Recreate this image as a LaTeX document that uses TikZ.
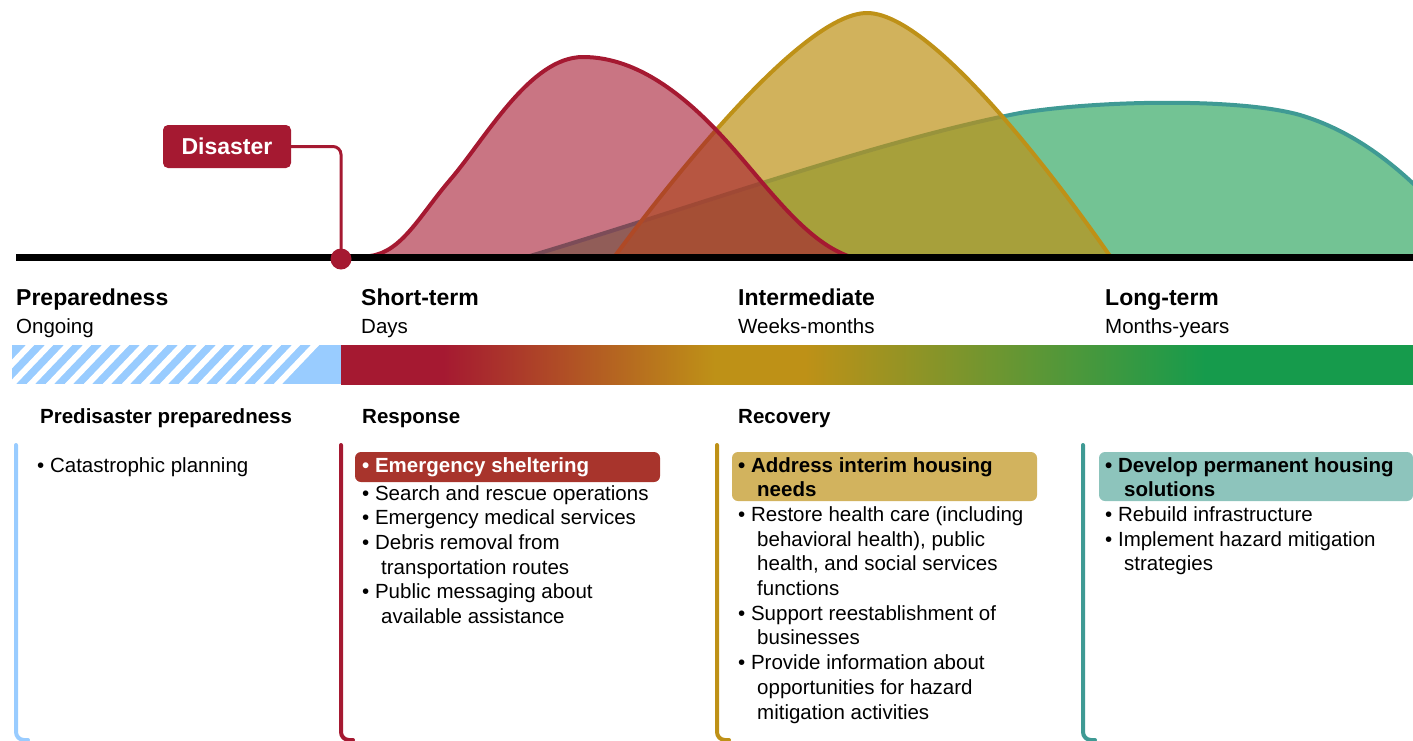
\documentclass[tikz,border=0pt]{standalone}
\usepackage{fontspec}
\setmainfont{Liberation Sans}
\definecolor{dred}{HTML}{A51931}
\definecolor{gold}{HTML}{BE9117}
\definecolor{teal2}{HTML}{3F9A94}
\definecolor{gbar}{HTML}{169B4C}
\definecolor{lblue}{HTML}{99CCFF}
\definecolor{brick}{HTML}{A8342C}
\definecolor{goldbox}{HTML}{D2B35E}
\definecolor{tealbox}{HTML}{8DC4BC}
\begin{document}
\begin{tikzpicture}[x=1pt,y=-1pt,
  txt/.style={anchor=base west, inner sep=0pt, font=\fontsize{20.5}{24.7}\selectfont},
  btxt/.style={txt, font=\fontsize{20.5}{24.7}\selectfont\bfseries},
  hd/.style={anchor=base west, inner sep=0pt, font=\fontsize{23}{27}\selectfont\bfseries},
  hl/.style={rounded corners=6pt},
  bracket/.style={line width=4pt, line cap=round, rounded corners=8pt},
  curve/.style={line width=4pt, line join=round}]
\useasboundingbox (0,0) rectangle (1413,740);
\clip (0,0) rectangle (1413,740);

% ---------- curves ----------
\filldraw[curve, draw=teal2, fill=gbar, fill opacity=0.6]
  (530,256) .. controls (700,205) and (880,140) .. (1020,113)
  .. controls (1100,100) and (1240,98) .. (1300,115)
  .. controls (1350,130) and (1390,160) .. (1425,195) -- (1425,256) -- cycle;
\filldraw[curve, draw=gold, fill=gold, fill opacity=0.7]
  (615,256) .. controls (660,195) and (800,13) .. (867,13)
  .. controls (930,13) and (1050,170) .. (1110,256) -- cycle;
\filldraw[curve, draw=dred, fill=dred, fill opacity=0.6]
  (370,256) .. controls (402,252) and (420,215) .. (450,180)
  .. controls (486,138) and (530,57) .. (583,57)
  .. controls (640,57) and (690,100) .. (730,145)
  .. controls (770,190) and (805,240) .. (848,256) -- cycle;

% ---------- baseline ----------
\coordinate (bl) at (16,257);
\coordinate (br) at (1413,257);
\draw[black, line width=7pt] (bl) -- (br);

% ---------- disaster ----------
\node[fill=dred, rounded corners=5pt, minimum width=128pt, minimum height=43pt, inner sep=0pt,
  text=white, font=\fontsize{23}{27}\selectfont\bfseries] (dis) at (227,146.5) {Disaster};
\coordinate (dotc) at (341,259);
\draw[dred, line width=3pt, rounded corners=8pt] (dis.east) -| (dotc);
\node[circle, fill=dred, minimum size=21pt, inner sep=0pt] (dot) at (dotc) {};

% ---------- phase headings ----------
\node[hd] (h1) at (16,305) {Preparedness};
\node[txt] (s1) at (16,333) {Ongoing};
\node[hd] (h2) at (361,305) {Short-term};
\node[txt] (s2) at (361,333) {Days};
\node[hd] (h3) at (738,305) {Intermediate};
\node[txt] (s3) at (738,333) {Weeks-months};
\node[hd] (h4) at (1105,305) {Long-term};
\node[txt] (s4) at (1105,333) {Months-years};

% ---------- colour bar ----------
\fill[lblue] (12,345) rectangle (341,384);
\begin{scope}
  \clip (12,345) rectangle (341,384);
  \foreach \i in {-1,...,14}
    \draw[white, line width=6pt] ({10+19*\i},386) -- ({10+19*\i+41},343);
\end{scope}
\begin{scope}
  \clip (341,345) rectangle (1413,384);
  \fill[dred] (341,335) rectangle (444,394);
  \shade[left color=dred, right color=gold] (443,335) rectangle (715,394);
  \fill[gold] (714,335) rectangle (806,394);
  \shade[left color=gold, right color=gbar] (805,335) rectangle (1205,394);
  \fill[gbar] (1204,335) rectangle (1413,394);
\end{scope}

% ---------- section labels ----------
\node[btxt] (l1) at (40,423) {Predisaster preparedness};
\node[btxt] (l2) at (362,423) {Response};
\node[btxt] (l3) at (738,423) {Recovery};

% ---------- brackets ----------
\draw[bracket, lblue] (16,445) -- (16,740) -- (28,740);
\draw[bracket, dred] (341,445) -- (341,740) -- (353,740);
\draw[bracket, gold] (717,445) -- (717,740) -- (729,740);
\draw[bracket, teal2] (1083,445) -- (1083,740) -- (1095,740);

% ---------- highlight boxes ----------
\fill[hl, brick] (355,452) rectangle (660,482);
\fill[hl, goldbox] (732,452) rectangle (1037,501);
\fill[hl, tealbox] (1099,452) rectangle (1413,501);

% ---------- column 1 ----------
\node[txt] (c1a) at (37,472) {• Catastrophic planning};

% ---------- column 2 ----------
\node[btxt, text=white] (c2a) at (362,472) {• Emergency sheltering};
\node[txt] (c2b) at (362,500) {• Search and rescue operations};
\node[txt] (c2c) at (362,524.7) {• Emergency medical services};
\node[txt] (c2d) at (362,549.4) {• Debris removal from};
\node[txt] (c2e) at (381,574.1) {transportation routes};
\node[txt] (c2f) at (362,598.8) {• Public messaging about};
\node[txt] (c2g) at (381,623.5) {available assistance};

% ---------- column 3 ----------
\node[btxt] (c3a) at (738,472) {• Address interim housing};
\node[btxt] (c3b) at (757,496.7) {needs};
\node[txt] (c3c) at (738,521.4) {• Restore health care (including};
\node[txt] (c3d) at (757,546.1) {behavioral health), public};
\node[txt] (c3e) at (757,570.8) {health, and social services};
\node[txt] (c3f) at (757,595.5) {functions};
\node[txt] (c3g) at (738,620.2) {• Support reestablishment of};
\node[txt] (c3h) at (757,644.9) {businesses};
\node[txt] (c3i) at (738,669.6) {• Provide information about};
\node[txt] (c3j) at (757,694.3) {opportunities for hazard};
\node[txt] (c3k) at (757,719) {mitigation activities};

% ---------- column 4 ----------
\node[btxt] (c4a) at (1105,472) {• Develop permanent housing};
\node[btxt] (c4b) at (1124,496.7) {solutions};
\node[txt] (c4c) at (1105,521.4) {• Rebuild infrastructure};
\node[txt] (c4d) at (1105,546.1) {• Implement hazard mitigation};
\node[txt] (c4e) at (1124,570.8) {strategies};
\end{tikzpicture}
\end{document}
